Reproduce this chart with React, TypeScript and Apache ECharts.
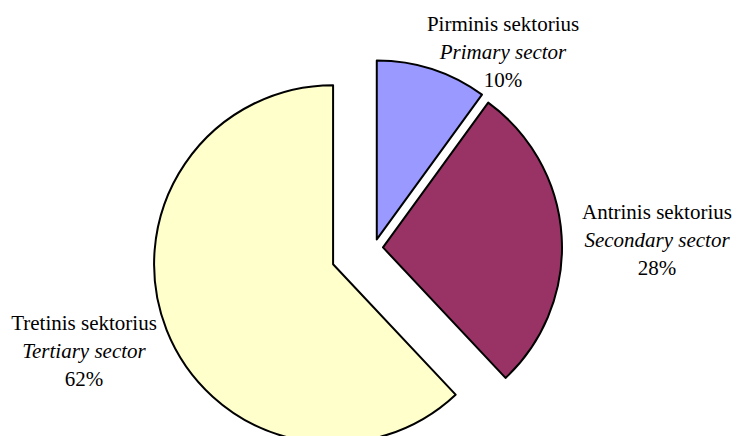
import React, { useEffect, useRef } from "react";
import * as echarts from "echarts";

const namesLt = ["Pirminis sektorius", "Antrinis sektorius", "Tretinis sektorius"];
const namesEn = ["Primary sector", "Secondary sector", "Tertiary sector"];
const values = [10, 28, 62];
const colors = ["#9999FF", "#993366", "#FFFFCC"];
const offsets = [9, 9, 44];
const labelPos = [
  [503, 52],
  [657, 240],
  [84, 351],
];

export default function App() {
  const ref = useRef<HTMLDivElement>(null);
  useEffect(() => {
    document.body.style.margin = "0";
    const chart = echarts.init(ref.current!, null, { renderer: "svg" });
    const font = "'Liberation Serif', 'Times New Roman', serif";
    const total = values.reduce((a, b) => a + b, 0);
    const series = values.map((_, si) => ({
      type: "pie",
      center: [374, 248],
      radius: 179,
      startAngle: 90,
      clockwise: true,
      silent: true,
      selectedMode: "single",
      selectedOffset: offsets[si],
      emphasis: { disabled: true },
      label: { show: false },
      labelLine: { show: false },
      data: values.map((v, j) =>
        j === si
          ? {
              name: namesLt[j],
              value: v,
              selected: true,
              itemStyle: { color: colors[j], borderColor: "#000", borderWidth: 2 },
            }
          : {
              name: namesLt[j],
              value: v,
              itemStyle: { color: "rgba(0,0,0,0)", borderWidth: 0 },
            }
      ),
    }));
    const rich = {
      a: { fontFamily: font, fontSize: 21, lineHeight: 28, fill: "#000", align: "center" },
      b: { fontFamily: font, fontSize: 21, lineHeight: 28, fill: "#000", fontStyle: "italic", align: "center" },
    };
    const graphic = values.map((v, i) => ({
      type: "text",
      x: labelPos[i][0],
      y: labelPos[i][1],
      silent: true,
      style: {
        text: `{a|${namesLt[i]}}\n{b|${namesEn[i]}}\n{a|${Math.round((v / total) * 100)}%}`,
        rich,
        align: "center",
        verticalAlign: "middle",
        fill: "#000",
      },
    }));
    chart.setOption({
      animation: false,
      backgroundColor: "#fff",
      series,
      graphic,
    } as any);
    return () => chart.dispose();
  }, []);
  return <div ref={ref} style={{ width: 739, height: 436 }} />;
}
